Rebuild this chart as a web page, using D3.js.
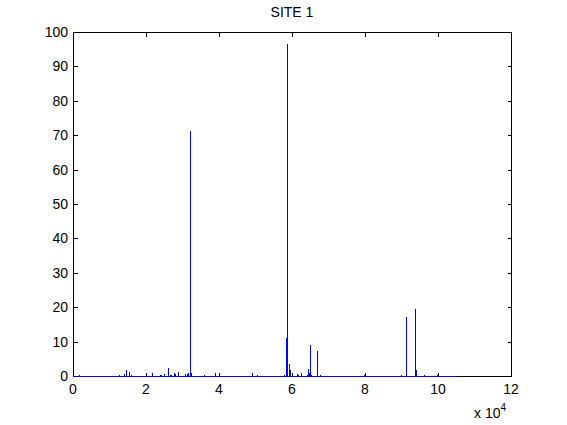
<!DOCTYPE html>
<html>
<head>
<meta charset="utf-8">
<script src="https://cdn.jsdelivr.net/npm/d3@7"></script>
<style>
  body { margin: 0; background: #fff; }
  text { font-family: "Liberation Sans", Arial, sans-serif; }
</style>
</head>
<body>
<svg id="chart" width="567" height="425"></svg>
<script>
// spike positions (x) and heights
const spikeX = [1640, 12600, 14000, 14600, 15400, 16000, 21700, 23900, 24200, 25000,
  26100, 26500, 26800, 27800, 28800, 30800, 31200, 31500, 32100, 32400,
  36000, 39000, 49100, 50500, 57900, 58400, 58700, 59300, 61500, 62500,
  64200, 64500, 64900, 65300, 66900, 67700, 67900, 79700, 89900, 91300,
  93800, 94000, 96200, 99700]
const spikeY = [0.3, 0.4, 0.6, 1.9, 1.4, 0.4, 1.0, 0.5, 0.3, 0.8,
  2.6, 0.5, 0.5, 1.1, 1.2, 0.6, 0.6, 0.9, 71.5, 0.9,
  0.3, 1.1, 1.1, 0.4, 0.3, 11.3, 96.7, 3.7, 0.6, 0.9,
  0.3, 2.3, 9.2, 0.3, 7.5, 0.5, 0.2, 0.3, 0.3, 17.3,
  19.5, 0.3, 0.3, 0.5]
const xStart = 0, xEnd = 105100

const xTicks = [0, 20000, 40000, 60000, 80000, 100000, 120000]
const xTickLabels = ["0", "2", "4", "6", "8", "10", "12"]
const yTicks = [0, 10, 20, 30, 40, 50, 60, 70, 80, 90, 100]

const mLeft = 73, mRight = 511, mTop = 32, mBottom = 376
const width = mRight - mLeft, height = mBottom - mTop

const svg = d3.select("#chart")

const x = d3.scaleLinear().domain([0, 120000]).range([mLeft, mRight])
const y = d3.scaleLinear().domain([0, 100]).range([mBottom, mTop])

// axes, matlab style: ticks inward, box on
const tl = 4
const g = svg.append("g").attr("shape-rendering", "crispEdges")

g.append("rect")
  .attr("x", mLeft + 0.5).attr("y", mTop + 0.5)
  .attr("width", width).attr("height", height)
  .attr("fill", "none").attr("stroke", "#000").attr("stroke-width", 1)

xTicks.forEach((t, i) => {
  const px = Math.round(x(t)) + 0.5
  g.append("line").attr("x1", px).attr("x2", px).attr("y1", mBottom + 0.5).attr("y2", mBottom + 0.5 - tl).attr("stroke", "#000")
  g.append("line").attr("x1", px).attr("x2", px).attr("y1", mTop + 0.5).attr("y2", mTop + 0.5 + tl).attr("stroke", "#000")
  g.append("text")
    .attr("x", x(t)).attr("y", mBottom + 18)
    .attr("text-anchor", "middle")
    .attr("font-size", 14)
    .text(xTickLabels[i])
})

yTicks.forEach(t => {
  const py = Math.round(y(t)) + 0.5
  g.append("line").attr("x1", mLeft + 0.5).attr("x2", mLeft + 0.5 + tl).attr("y1", py).attr("y2", py).attr("stroke", "#000")
  g.append("line").attr("x1", mRight + 0.5).attr("x2", mRight + 0.5 - tl).attr("y1", py).attr("y2", py).attr("stroke", "#000")
  g.append("text")
    .attr("x", mLeft - 5).attr("y", y(t) + 5)
    .attr("text-anchor", "end")
    .attr("font-size", 14)
    .text(t)
})

// build the line: flat at zero with narrow spikes
let pts = [[xStart, 0]]
spikeX.forEach((sx, i) => {
  pts.push([sx - 40, 0], [sx, spikeY[i]], [sx + 40, 0])
})
pts.push([xEnd, 0])

const line = d3.line().x(d => x(d[0]) + 0.5).y(d => y(d[1]) + 0.5)

svg.append("path")
  .datum(pts)
  .attr("fill", "none")
  .attr("stroke", "#0000ff")
  .attr("stroke-width", 1)
  .attr("shape-rendering", "crispEdges")
  .attr("d", line)

// exponent label
const ex = svg.append("text")
  .attr("x", 474).attr("y", 418)
  .attr("font-size", 14)
ex.append("tspan").text("x 10")
ex.append("tspan").attr("dy", -7).attr("font-size", 10).text("4")

svg.append("text")
  .attr("x", (mLeft + mRight) / 2).attr("y", 17)
  .attr("text-anchor", "middle")
  .attr("font-size", 14)
  .text("SITE 1")
</script>
</body>
</html>
